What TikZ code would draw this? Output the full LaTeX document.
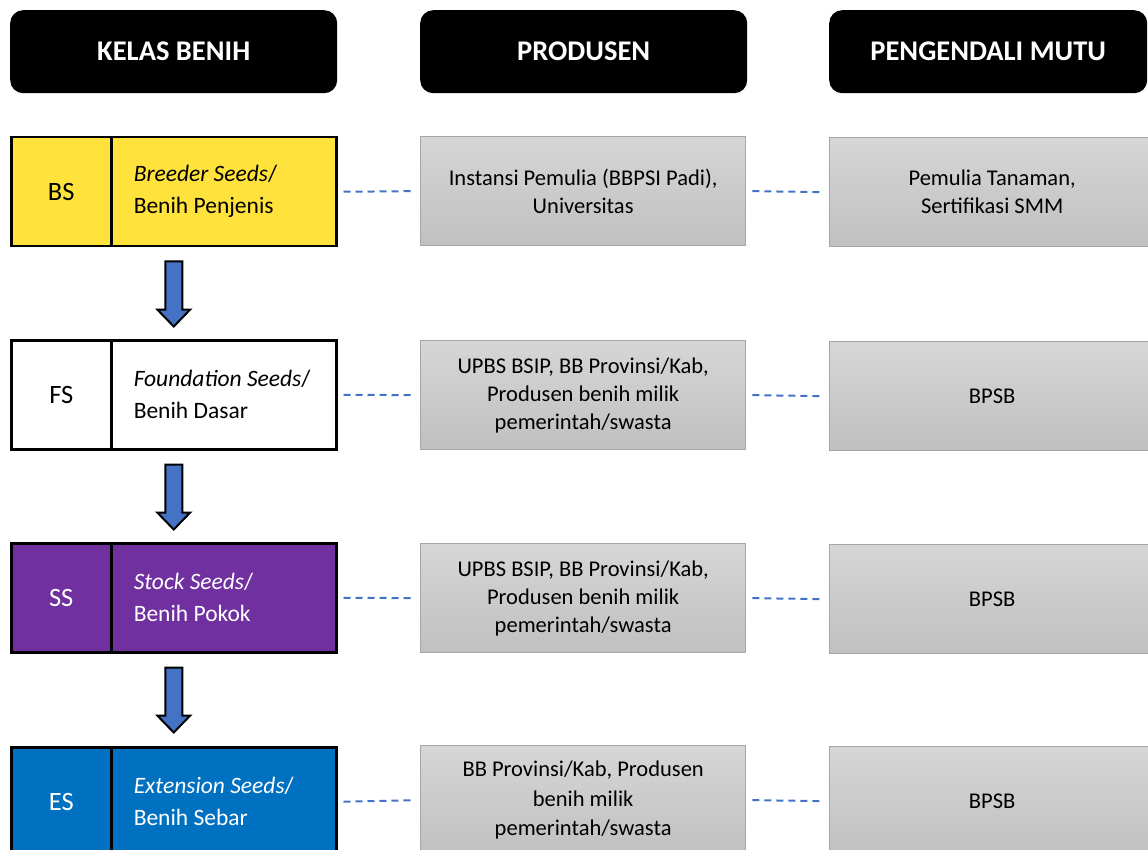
\documentclass[tikz,border=0pt]{standalone}
\usepackage{fontspec}
\setmainfont{Carlito}
\usetikzlibrary{calc}
\definecolor{seedyellow}{RGB}{255,226,59}
\definecolor{seedpurple}{RGB}{112,48,160}
\definecolor{seedblue}{RGB}{0,112,192}
\definecolor{arrowblue}{RGB}{68,114,196}
\definecolor{graytop}{RGB}{214,214,214}
\definecolor{graybot}{RGB}{192,192,192}
\definecolor{grayedge}{RGB}{166,166,166}
\newcommand\hdrfont{\fontsize{28.5}{34}\selectfont\bfseries}
\newcommand\codefont{\fontsize{26.5}{30}\selectfont}
\newcommand\bodyfont{\fontsize{23.5}{32}\selectfont}
\newcommand\boxfont{\fontsize{22.5}{28}\selectfont}
\tikzset{
  hdr/.style={fill=black, rounded corners=13, text=white, font=\hdrfont,
    minimum width=327, minimum height=83, anchor=north west, inner sep=0},
  seedcode/.style={draw=black, line width=2.5, minimum width=100, minimum height=109,
    anchor=north west, font=\codefont, inner sep=0},
  seedname/.style={draw=black, line width=2.5, minimum width=225, minimum height=109,
    anchor=north west, align=flush left, text width=180, font=\bodyfont, inner sep=0},
  graybox/.style={draw=grayedge, line width=1.3, top color=graytop, bottom color=graybot,
    minimum width=325, minimum height=109, anchor=north west, align=center,
    font=\boxfont, inner sep=0},
  dashlink/.style={draw=arrowblue, line width=2, dash pattern=on 7pt off 5pt},
  blockarrow/.style={draw=black, line width=2, fill=arrowblue, line join=miter}
}
\newcommand\downarrowshape[1]{%
  \draw[blockarrow] ($#1+(-8.5,0)$) -- ++(17,0) -- ++(0,48) -- ++(8,0)
    -- ++(-16.5,17) -- ++(-16.5,-17) -- ++(8,0) -- cycle;}
\begin{document}
\begin{tikzpicture}[x=1pt,y=-1pt]
\useasboundingbox (0,0) rectangle (1148,850);
% headers
\node[hdr] (h1) at (10,10) {KELAS BENIH};
\node[hdr] (h2) at (420,10) {PRODUSEN};
\node[hdr, minimum width=318] (h3) at (829,10) {PENGENDALI MUTU};

% row BS
\node[seedcode, fill=seedyellow] (bsc) at (10,136) {BS};
\node[seedname, fill=seedyellow] (bsn) at (110,136) {\textit{Breeder Seeds}/\\Benih Penjenis};
\node[graybox] (bsp) at (420,136) {Instansi Pemulia (BBPSI Padi),\\Universitas};
\node[graybox] (bsq) at (829,137) {Pemulia Tanaman,\\Sertifikasi SMM};

% row FS
\node[seedcode, fill=white] (fsc) at (10,339) {FS};
\node[seedname, fill=white] (fsn) at (110,339) {\textit{Foundation Seeds}/\\Benih Dasar};
\node[graybox] (fsp) at (420,340) {UPBS BSIP, BB Provinsi/Kab,\\Produsen benih milik\\pemerintah/swasta};
\node[graybox] (fsq) at (829,341) {BPSB};

% row SS
\node[seedcode, fill=seedpurple, text=white] (ssc) at (10,542) {SS};
\node[seedname, fill=seedpurple, text=white] (ssn) at (110,542) {\textit{Stock Seeds}/\\Benih Pokok};
\node[graybox] (ssp) at (420,543) {UPBS BSIP, BB Provinsi/Kab,\\Produsen benih milik\\pemerintah/swasta};
\node[graybox] (ssq) at (829,544) {BPSB};

% row ES
\node[seedcode, fill=seedblue, text=white] (esc) at (10,746) {ES};
\node[seedname, fill=seedblue, text=white] (esn) at (110,746) {\textit{Extension Seeds}/\\Benih Sebar};
\node[graybox, font=\fontsize{22.5}{29.5}\selectfont] (esp) at (420,745) {BB Provinsi/Kab, Produsen\\benih milik\\pemerintah/swasta};
\node[graybox] (esq) at (829,746) {BPSB};

% dashed links
\foreach \r in {bs,fs,ss,es}{
  \draw[dashlink] ($(\r n.east)+(6,0)$) -- ($(\r p.west)+(-5,0)$);
  \draw[dashlink] ($(\r p.east)+(6,0)$) -- ($(\r q.west)+(-5,0)$);
}

% block arrows
\downarrowshape{($(bsc.south west)!0.5!(bsn.south east)+(0,14)$)}
\downarrowshape{($(fsc.south west)!0.5!(fsn.south east)+(0,14)$)}
\downarrowshape{($(ssc.south west)!0.5!(ssn.south east)+(0,14)$)}
\end{tikzpicture}
\end{document}
